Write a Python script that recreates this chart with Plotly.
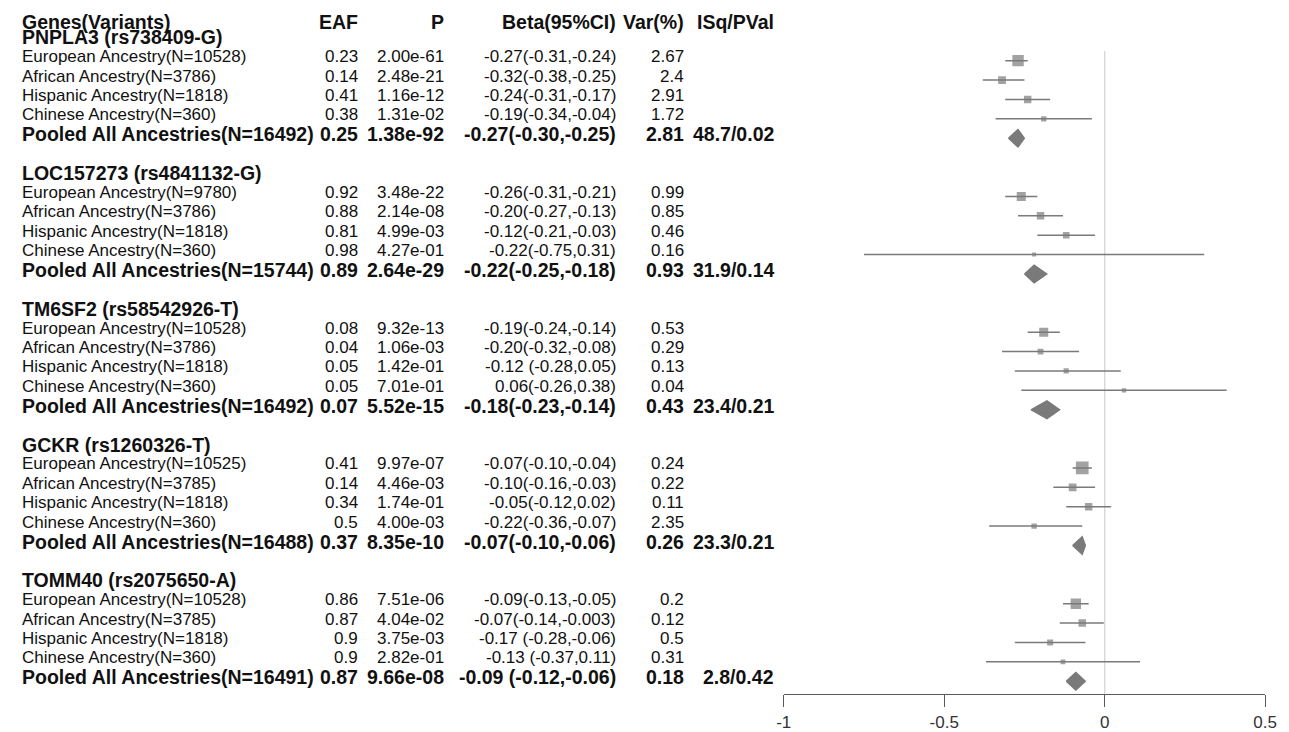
import plotly.graph_objects as go

# ---------------- data ----------------
genes = ["PNPLA3 (rs738409-G)", "LOC157273 (rs4841132-G)", "TM6SF2 (rs58542926-T)",
         "GCKR (rs1260326-T)", "TOMM40 (rs2075650-A)"]

headers = ["Genes(Variants)", "EAF", "P", "Beta(95%CI)", "Var(%)", "ISq/PVal"]

row_labels = [
    "European Ancestry(N=10528)", "African Ancestry(N=3786)", "Hispanic Ancestry(N=1818)", "Chinese Ancestry(N=360)", "Pooled All Ancestries(N=16492)",
    "European Ancestry(N=9780)", "African Ancestry(N=3786)", "Hispanic Ancestry(N=1818)", "Chinese Ancestry(N=360)", "Pooled All Ancestries(N=15744)",
    "European Ancestry(N=10528)", "African Ancestry(N=3786)", "Hispanic Ancestry(N=1818)", "Chinese Ancestry(N=360)", "Pooled All Ancestries(N=16492)",
    "European Ancestry(N=10525)", "African Ancestry(N=3785)", "Hispanic Ancestry(N=1818)", "Chinese Ancestry(N=360)", "Pooled All Ancestries(N=16488)",
    "European Ancestry(N=10528)", "African Ancestry(N=3785)", "Hispanic Ancestry(N=1818)", "Chinese Ancestry(N=360)", "Pooled All Ancestries(N=16491)",
]
is_pooled = [False, False, False, False, True] * 5

eaf = ["0.23", "0.14", "0.41", "0.38", "0.25",
       "0.92", "0.88", "0.81", "0.98", "0.89",
       "0.08", "0.04", "0.05", "0.05", "0.07",
       "0.41", "0.14", "0.34", "0.5", "0.37",
       "0.86", "0.87", "0.9", "0.9", "0.87"]

pvals = ["2.00e-61", "2.48e-21", "1.16e-12", "1.31e-02", "1.38e-92",
         "3.48e-22", "2.14e-08", "4.99e-03", "4.27e-01", "2.64e-29",
         "9.32e-13", "1.06e-03", "1.42e-01", "7.01e-01", "5.52e-15",
         "9.97e-07", "4.46e-03", "1.74e-01", "4.00e-03", "8.35e-10",
         "7.51e-06", "4.04e-02", "3.75e-03", "2.82e-01", "9.66e-08"]

beta_ci_text = ["-0.27(-0.31,-0.24)", "-0.32(-0.38,-0.25)", "-0.24(-0.31,-0.17)", "-0.19(-0.34,-0.04)", "-0.27(-0.30,-0.25)",
                "-0.26(-0.31,-0.21)", "-0.20(-0.27,-0.13)", "-0.12(-0.21,-0.03)", "-0.22(-0.75,0.31)", "-0.22(-0.25,-0.18)",
                "-0.19(-0.24,-0.14)", "-0.20(-0.32,-0.08)", "-0.12 (-0.28,0.05)", "0.06(-0.26,0.38)", "-0.18(-0.23,-0.14)",
                "-0.07(-0.10,-0.04)", "-0.10(-0.16,-0.03)", "-0.05(-0.12,0.02)", "-0.22(-0.36,-0.07)", "-0.07(-0.10,-0.06)",
                "-0.09(-0.13,-0.05)", "-0.07(-0.14,-0.003)", "-0.17 (-0.28,-0.06)", "-0.13 (-0.37,0.11)", "-0.09 (-0.12,-0.06)"]

var_pct = ["2.67", "2.4", "2.91", "1.72", "2.81",
           "0.99", "0.85", "0.46", "0.16", "0.93",
           "0.53", "0.29", "0.13", "0.04", "0.43",
           "0.24", "0.22", "0.11", "2.35", "0.26",
           "0.2", "0.12", "0.5", "0.31", "0.18"]

isq = ["", "", "", "", "48.7/0.02",
       "", "", "", "", "31.9/0.14",
       "", "", "", "", "23.4/0.21",
       "", "", "", "", "23.3/0.21",
       "", "", "", "", "2.8/0.42"]

beta = [-0.27, -0.32, -0.24, -0.19, -0.27,
        -0.26, -0.20, -0.12, -0.22, -0.22,
        -0.19, -0.20, -0.12, 0.06, -0.18,
        -0.07, -0.10, -0.05, -0.22, -0.07,
        -0.09, -0.07, -0.17, -0.13, -0.09]
lower = [-0.31, -0.38, -0.31, -0.34, -0.30,
         -0.31, -0.27, -0.21, -0.75, -0.25,
         -0.24, -0.32, -0.28, -0.26, -0.23,
         -0.10, -0.16, -0.12, -0.36, -0.10,
         -0.13, -0.14, -0.28, -0.37, -0.12]
upper = [-0.24, -0.25, -0.17, -0.04, -0.25,
         -0.21, -0.13, -0.03, 0.31, -0.18,
         -0.14, -0.08, 0.05, 0.38, -0.14,
         -0.04, -0.03, 0.02, -0.07, -0.06,
         -0.05, -0.003, -0.06, 0.11, -0.06]

tick_vals = [-1, -0.5, 0, 0.5]
tick_text = ["-1", "-0.5", "0", "0.5"]

# ---------------- layout constants ----------------
W, H = 1289, 732
ROW_PX = 19.5
FIRST_ROW_PX = 61.0            # pixel y of row index 2
Y_TOP = 2 - FIRST_ROW_PX / ROW_PX
Y_BOT = Y_TOP + H / ROW_PX
AXIS_PX = 698
axis_row = Y_TOP + AXIS_PX / ROW_PX

FONT = "Liberation Sans, Arial, Helvetica, sans-serif"
TXT = "#111111"
GRAY = "#7a7a7a"
REG = 17
BOLD = 19.5

col_left = 12 / W
col_right = [358 / W, 445 / W, 620 / W, 689 / W, 780 / W]

# row indices
header_rows = [1 + 7 * g for g in range(len(genes))]
data_rows = [2 + 7 * g + j for g in range(len(genes)) for j in range(5)]

fig = go.Figure()

# CI lines (study rows)
xs, ys = [], []
for i, r in enumerate(data_rows):
    if not is_pooled[i]:
        xs += [lower[i], upper[i], None]
        ys += [r, r, None]
fig.add_trace(go.Scatter(x=xs, y=ys, mode="lines", line=dict(color=GRAY, width=1.5),
                         hoverinfo="skip", showlegend=False))

# Boxes sized by inverse CI width (forestplot style)
inv = [1.0 / (upper[i] - lower[i]) for i in range(len(beta)) if not is_pooled[i]]
inv_max = max(inv)
bx, by, bs = [], [], []
for i, r in enumerate(data_rows):
    if not is_pooled[i]:
        bx.append(beta[i])
        by.append(r)
        bs.append(3.5 + 9.2 * (1.0 / (upper[i] - lower[i])) / inv_max)
fig.add_trace(go.Scatter(x=bx, y=by, mode="markers",
                         marker=dict(symbol="square", size=bs, color=GRAY, line=dict(width=0)),
                         hoverinfo="skip", showlegend=False))

# Summary diamonds
dx, dy = [], []
HALF = 0.46
for i, r in enumerate(data_rows):
    if is_pooled[i]:
        dx += [lower[i], beta[i], upper[i], beta[i], lower[i], None]
        dy += [r, r - HALF, r, r + HALF, r, None]
fig.add_trace(go.Scatter(x=dx, y=dy, mode="lines", fill="toself", fillcolor=GRAY,
                         line=dict(color=GRAY, width=1.2), hoverinfo="skip", showlegend=False))

# zero line
fig.add_shape(type="line", xref="x", yref="y", x0=0, x1=0, y0=1.5, y1=axis_row,
              line=dict(color="#d6d6d6", width=1.3), layer="below")

ann = []
def add_text(txt, x, row, anchor, size, bold, yshift=4):
    if txt == "":
        return
    ann.append(dict(text=f"<b>{txt}</b>" if bold else txt, x=x, y=row, xref="paper", yref="y",
                    xanchor=anchor, yanchor="middle", showarrow=False, yshift=yshift,
                    font=dict(family=FONT, size=size, color=TXT)))

# header row
add_text(headers[0], col_left, 0, "left", BOLD, True, 0)
for k, h in enumerate(headers[1:]):
    add_text(h, col_right[k], 0, "right", BOLD, True, 0)

for g, gname in enumerate(genes):
    add_text(gname, col_left, header_rows[g], "left", BOLD, True)

for i, r in enumerate(data_rows):
    b = is_pooled[i]
    sz = BOLD if b else REG
    add_text(row_labels[i], col_left, r, "left", sz, b)
    for k, val in enumerate([eaf[i], pvals[i], beta_ci_text[i], var_pct[i], isq[i]]):
        add_text(val, col_right[k], r, "right", sz, b)

fig.update_layout(
    width=W, height=H,
    margin=dict(l=0, r=0, t=0, b=0),
    paper_bgcolor="white", plot_bgcolor="white",
    annotations=ann,
    xaxis=dict(domain=[788 / W, 1277 / W], range=[-1, 0.5], anchor="free",
               position=(H - AXIS_PX) / H, showline=True, linecolor="#5a5a5a", linewidth=1.2,
               ticks="outside", ticklen=12, tickwidth=1.2, tickcolor="#5a5a5a",
               tickvals=tick_vals, ticktext=tick_text, showgrid=False, zeroline=False,
               tickfont=dict(family=FONT, size=17, color="#333333")),
    yaxis=dict(domain=[0, 1], range=[Y_BOT, Y_TOP], visible=False, showgrid=False, zeroline=False),
)

post = (
    "document.body.style.margin='0';"
    "document.documentElement.style.overflow='hidden';"
    "document.body.style.overflow='hidden';"
    "var gd=document.getElementById('{plot_id}');"
    "var w=document.documentElement.clientWidth, h=document.documentElement.clientHeight;"
    "if(w>300 && h>200 && (w!==%d || h!==%d)){gd.style.width=w+'px';gd.style.height=h+'px';"
    "Plotly.relayout(gd,{width:w,height:h});}" % (W, H)
)

fig.write_html("out.html", config={"displayModeBar": False}, post_script=post)
